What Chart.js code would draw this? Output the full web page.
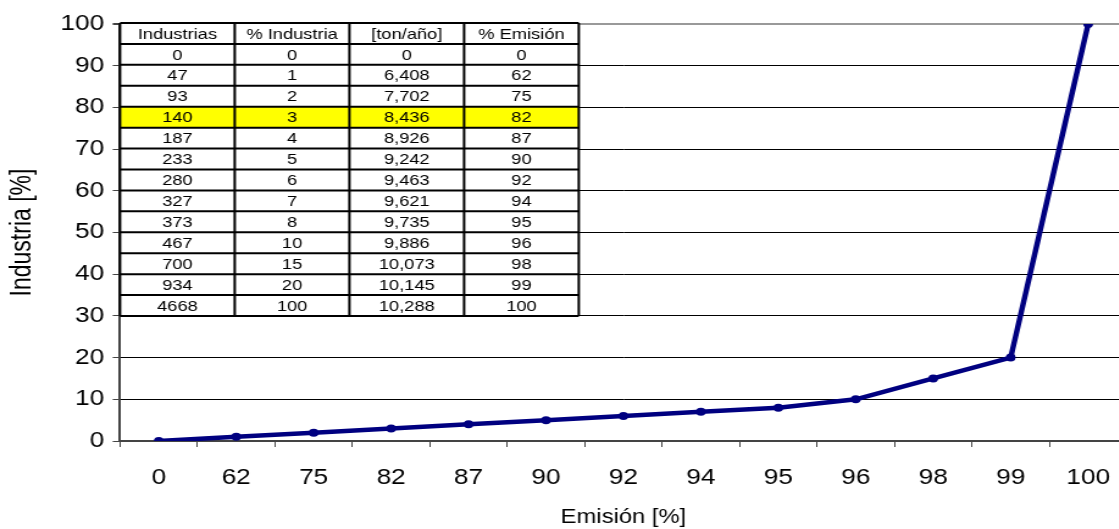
<!DOCTYPE html>
<html>
<head>
<meta charset="utf-8">
<script src="https://cdn.jsdelivr.net/npm/chart.js@4.4.1/dist/chart.umd.min.js"></script>
<style>
html, body { margin: 0; padding: 0; background: #fff; overflow: hidden; }
#wrap { width: 928px; height: 529px; transform: scaleX(1.22); transform-origin: 0 0; }
</style>
</head>
<body>
<div id="wrap"><canvas id="chart" width="928" height="529"></canvas></div>
<script>
// table / chart data
var header = ['Industrias', '% Industria', '[ton/año]', '% Emisión'];
var industrias = [0, 47, 93, 140, 187, 233, 280, 327, 373, 467, 700, 934, 4668];
var pctIndustria = [0, 1, 2, 3, 4, 5, 6, 7, 8, 10, 15, 20, 100];
var tonAnio = ['0', '6,408', '7,702', '8,436', '8,926', '9,242', '9,463', '9,621', '9,735', '9,886', '10,073', '10,145', '10,288'];
var pctEmision = [0, 62, 75, 82, 87, 90, 92, 94, 95, 96, 98, 99, 100];
var highlightRow = 3;

var FONT = "'Liberation Sans', Arial, sans-serif";

const tablePlugin = {
    id: 'dataTable',
    afterDraw(chart) {
        const ctx = chart.ctx;
        const left = chart.chartArea.left;
        const top = 23;
        const colW = 94;
        const rowH = 20.93;
        const nRows = industrias.length + 1;
        const nCols = header.length;

        ctx.save();
        ctx.fillStyle = '#fff';
        ctx.fillRect(left, top, colW * nCols, rowH * nRows);
        ctx.fillStyle = '#ffff00';
        ctx.fillRect(left, top + rowH * (highlightRow + 1), colW * nCols, rowH);

        ctx.fillStyle = '#000';
        ctx.font = '15px ' + FONT;
        ctx.textAlign = 'center';
        ctx.textBaseline = 'middle';
        for (let c = 0; c < nCols; c++) {
            ctx.fillText(header[c], left + colW * (c + 0.5), top + rowH * 0.5 + 1);
        }
        for (let r = 0; r < industrias.length; r++) {
            const row = [industrias[r], pctIndustria[r], tonAnio[r], pctEmision[r]];
            for (let c = 0; c < nCols; c++) {
                ctx.fillText(String(row[c]), left + colW * (c + 0.5), top + rowH * (r + 1.5) + 1);
            }
        }

        ctx.strokeStyle = '#000';
        ctx.lineWidth = 2;
        ctx.beginPath();
        for (let r = 0; r <= nRows; r++) {
            ctx.moveTo(left, top + rowH * r);
            ctx.lineTo(left + colW * nCols, top + rowH * r);
        }
        for (let c = 0; c <= nCols; c++) {
            ctx.moveTo(left + colW * c, top);
            ctx.lineTo(left + colW * c, top + rowH * nRows);
        }
        ctx.stroke();
        ctx.restore();
    }
};

const canvas = document.getElementById('chart');
new Chart(canvas.getContext('2d'), {
    type: 'line',
    data: {
        labels: pctEmision.map(String),
        datasets: [{
            data: pctIndustria,
            borderColor: '#000080',
            backgroundColor: '#000080',
            borderWidth: 4.5,
            pointRadius: 4,
            pointBackgroundColor: '#000080',
            pointBorderWidth: 0,
            tension: 0
        }]
    },
    options: {
        responsive: false,
        devicePixelRatio: 1,
        animation: false,
        layout: { padding: { top: 24, right: 1, left: 0, bottom: 0 } },
        plugins: {
            legend: { display: false },
            tooltip: { enabled: false }
        },
        scales: {
            x: {
                type: 'category',
                offset: true,
                afterFit(scale) { scale.height = 88; },
                grid: { offset: true, drawOnChartArea: false, drawTicks: true, tickLength: 6, tickColor: '#444' },
                border: { color: '#444', width: 2 },
                ticks: { color: '#000', font: { family: FONT, size: 21.5 }, padding: 18, maxRotation: 0, autoSkip: false },
                title: { display: true, text: 'Emisión [%]', color: '#000', font: { family: FONT, size: 19.5 }, padding: { top: 4, bottom: 0 } }
            },
            y: {
                min: 0,
                max: 100,
                afterFit(scale) { scale.width = 98.4; },
                grid: {
                    color: c => c.tick && c.tick.value === 100 ? '#999' : '#000',
                    lineWidth: c => c.tick && c.tick.value === 100 ? 2 : 1,
                    tickLength: 6,
                    tickColor: '#444'
                },
                border: { color: '#444', width: 2 },
                ticks: { stepSize: 10, color: '#000', font: { family: FONT, size: 21.5 }, padding: 7 },
                title: { display: true, text: 'Industria [%]', color: '#000', font: { family: FONT, size: 23 }, padding: { top: 5, bottom: 0 } }
            }
        }
    },
    plugins: [tablePlugin]
});
</script>
</body>
</html>
